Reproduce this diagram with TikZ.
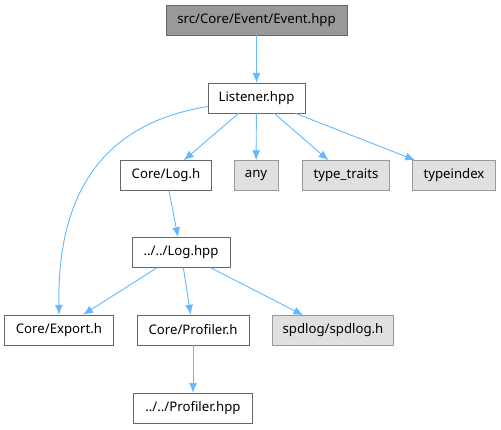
\documentclass[tikz,border=0pt]{standalone}
\usepackage{fontspec}
\setmainfont{Noto Sans}
\usepackage{tikz}
\usetikzlibrary{arrows.meta}

\definecolor{edgeblue}{HTML}{63B8FF}
\definecolor{rootgray}{HTML}{999999}
\definecolor{extgray}{HTML}{E0E0E0}
\definecolor{linegray}{HTML}{666666}

\tikzset{
  file/.style={draw=linegray, fill=white, rectangle, minimum height=30pt,
    inner sep=0pt, font=\fontsize{13.2}{15}\selectfont},
  rootfile/.style={file, fill=rootgray},
  extfile/.style={file, draw=rootgray, fill=extgray},
  dep/.style={->, draw=edgeblue, line width=0.9pt}
}

\begin{document}
\begin{tikzpicture}[x=1pt, y=-1pt, >={Latex[length=10pt,width=8pt]}]
        \useasboundingbox (0,0) rectangle (501,429);

        % Root
        \node[rootfile, minimum width=181pt] (event) at (256.5, 20) {src/Core/Event/Event.hpp};
        \node[file, minimum width=97pt] (listener) at (256.5, 98) {Listener.hpp};

        % Second row
        \node[file, minimum width=91pt] (logh) at (166, 175.5) {Core/Log.h};
        \node[extfile, minimum width=44pt] (any) at (256, 175.5) {any};
        \node[extfile, minimum width=87pt] (traits) at (346, 175.5) {type\_traits};
        \node[extfile, minimum width=83pt] (typeidx) at (454, 175.5) {typeindex};

        % Log
        \node[file, minimum width=98pt] (loghpp) at (181, 252.5) {../../Log.hpp};

        % Bottom rows
        \node[file, minimum width=109pt] (export) at (59, 330) {Core/Export.h};
        \node[file, minimum width=112pt] (profh) at (193, 330) {Core/Profiler.h};
        \node[extfile, minimum width=121pt] (spdlog) at (333, 330.5) {spdlog/spdlog.h};
        \node[file, minimum width=119pt] (profhpp) at (193, 408) {../../Profiler.hpp};

        % Includes
        \draw[dep] (event) -- (listener);
        \draw[dep] (listener.190) .. controls (110,122) and (57,185) .. (export.north);
        \draw[dep] (listener) -- (logh);
        \draw[dep] (listener) -- (any);
        \draw[dep] (listener) -- (traits);
        \draw[dep] (listener) -- (typeidx);
        \draw[dep] (logh) -- (loghpp);
        \draw[dep] (loghpp) -- (export);
        \draw[dep] (loghpp) -- (profh);
        \draw[dep] (loghpp) -- (spdlog);
        \draw[dep] (profh) -- (profhpp);
\end{tikzpicture}
\end{document}
